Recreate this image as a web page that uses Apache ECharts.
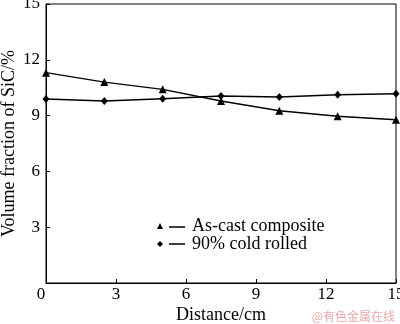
<!DOCTYPE html>
<html><head><meta charset="utf-8">
<script src="https://cdn.jsdelivr.net/npm/echarts@6/dist/echarts.min.js"></script>
<style>html,body{margin:0;padding:0;background:#fff}#c{width:400px;height:324px}</style>
</head><body><div id="c"></div>
<script>
var distance = [0, 2.5, 5, 7.5, 10, 12.5, 15];
var asCast = [11.31, 10.8, 10.41, 9.78, 9.26, 8.96, 8.78];
var coldRolled = [9.89, 9.78, 9.91, 10.05, 10.0, 10.12, 10.18];
var seriesNames = ['As-cast composite', '90% cold rolled'];
var xTicks = [0, 3, 6, 9, 12, 15];
var yTicks = [0, 3, 6, 9, 12, 15];

var font = 'Liberation Serif, Times New Roman, serif';
function pairs(xs, ys){ return xs.map(function(x,i){ return [x, ys[i]]; }); }

var chart = echarts.init(document.getElementById('c'));
chart.setOption({
  animation: false,
  backgroundColor: '#fff',
  grid: { left: 46, right: 4, top: 4, bottom: 41, outerBoundsMode: 'none', containLabel: false,
    show: true, borderColor: '#000', borderWidth: 1, backgroundColor: 'transparent' },
  xAxis: {
    type: 'value', min: xTicks[0], max: xTicks[xTicks.length-1], interval: 3,
    name: 'Distance/cm', nameLocation: 'middle', nameGap: 23, nameMoveOverlap: false,
    nameTextStyle: { fontFamily: font, fontSize: 18, color: '#000' },
    axisLine: { lineStyle: { color: '#000', width: 1 } },
    axisTick: { inside: true, length: 4, lineStyle: { color: '#000' } },
    splitLine: { show: false },
    axisLabel: { fontFamily: font, fontSize: 17, color: '#000', margin: 3,
      formatter: function(v){ return v === 0 ? '{o|0}' : String(v); },
      rich: { o: { fontFamily: font, fontSize: 17, color: '#000', padding: [0, 10, 0, 0] } } }
  },
  yAxis: {
    type: 'value', min: yTicks[0], max: yTicks[yTicks.length-1], interval: 3,
    name: 'Volume fraction of SiC/%', nameLocation: 'middle', nameGap: 28, nameMoveOverlap: false,
    nameTextStyle: { fontFamily: font, fontSize: 18, color: '#000' },
    axisLine: { show: true, lineStyle: { color: '#000', width: 1 } },
    axisTick: { show: true, inside: true, length: 4, lineStyle: { color: '#000' } },
    splitLine: { show: false },
    axisLabel: { fontFamily: font, fontSize: 17, color: '#000', margin: 6, showMinLabel: false }
  },
  legend: {
    orient: 'vertical', left: 152, top: 212, itemGap: 0,
    itemWidth: 28, itemHeight: 7,
    textStyle: { fontFamily: font, fontSize: 18, color: '#000', padding: [0,0,0,2] },
    data: [
      { name: seriesNames[0], icon: 'path://M0,9L3,3L6,9Z M12,6.3L28,6.3L28,7.7L12,7.7Z', itemStyle: { color: '#000' } },
      { name: seriesNames[1], icon: 'path://M3,3L6,6L3,9L0,6Z M12,5.3L28,5.3L28,6.7L12,6.7Z', itemStyle: { color: '#000' } }
    ]
  },
  series: [
    { name: seriesNames[0], type: 'line', data: pairs(distance, asCast), symbol: 'triangle', symbolSize: 8,
      lineStyle: { color: '#000', width: 1.5 }, itemStyle: { color: '#000' } },
    { name: seriesNames[1], type: 'line', data: pairs(distance, coldRolled), symbol: 'diamond', symbolSize: [7, 8],
      lineStyle: { color: '#000', width: 1.5 }, itemStyle: { color: '#000' } }
  ],
  graphic: [
    { type: 'text', right: 5, bottom: 2, style: { text: '@有色金属在线', fill: '#eaa8a8', font: '12px "Noto Sans CJK SC", sans-serif' } }
  ]
});
</script></body></html>
